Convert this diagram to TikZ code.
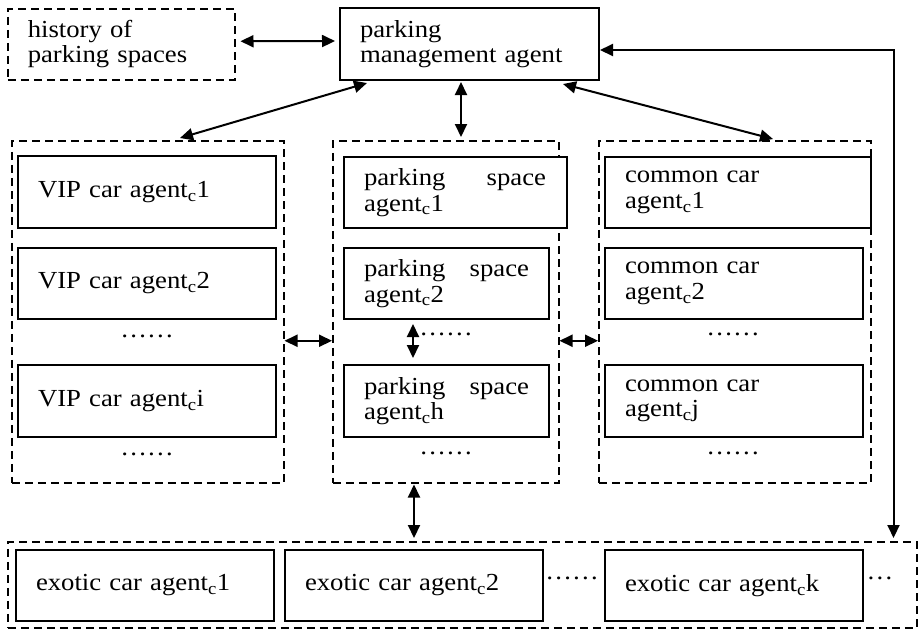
\documentclass[tikz,border=0pt]{standalone}
\usepackage{fontspec}
\setmainfont[FakeStretch=1.09]{Liberation Serif}
\usetikzlibrary{arrows.meta}
\begin{document}
\begin{tikzpicture}[x=1pt,y=-1pt,
  txt/.style={font=\fontsize{24.5pt}{25.5pt}\selectfont},
  agentbox/.style={draw, fill=white, line width=2pt, anchor=north west, inner sep=0pt, align=left, txt},
  group/.style={draw, dash pattern=on 8pt off 5pt, line width=1.5pt, anchor=north west, inner sep=0pt},
  dbl/.style={line width=2pt, {Triangle[length=13pt,width=12pt]}-{Triangle[length=13pt,width=12pt]}},
  dotrow/.style={txt, anchor=base, inner sep=0pt}]
\useasboundingbox (0,0) rectangle (920,630);

% top row
\node[group, txt, align=left, text width=187pt, minimum width=227pt, minimum height=71pt] (hist) at (7,8) {history of\\parking spaces};
\node[agentbox, text width=219pt, minimum width=259pt, minimum height=72pt] (pma) at (339,7) {parking\\management agent};

% containers
\node[group, minimum width=272pt, minimum height=342pt] (vipc) at (11,140) {};
\node[group, minimum width=226pt, minimum height=342pt] (psc) at (332,140) {};
\node[group, minimum width=272pt, minimum height=342pt] (ccc) at (598,140) {};
\node[group, minimum width=909pt, minimum height=86pt] (exo) at (7,541) {};

% VIP column
\node[agentbox, minimum width=258pt, minimum height=72pt, text width=218pt] (vip1) at (17,155) {VIP car agent\textsubscript{c}1};
\node[agentbox, minimum width=258pt, minimum height=71pt, text width=218pt] (vip2) at (17,247) {VIP car agent\textsubscript{c}2};
\node[agentbox, minimum width=258pt, minimum height=72pt, text width=218pt] (vipi) at (17,364) {VIP car agent\textsubscript{c}i};
\node[dotrow] (vd1) at (147,337) {……};
\node[dotrow] (vd2) at (147,455) {……};

% parking space column
\node[agentbox, minimum width=223pt, minimum height=71pt, text width=183pt] (ps1) at (343,156) {\hbox to 182pt{parking\hfill space}\\agent\textsubscript{c}1};
\node[agentbox, minimum width=205pt, minimum height=71pt, text width=165pt] (ps2) at (343,247) {\hbox to 165pt{parking\hfill space}\\agent\textsubscript{c}2};
\node[agentbox, minimum width=205pt, minimum height=72pt, text width=165pt] (psh) at (343,364) {\hbox to 165pt{parking\hfill space}\\agent\textsubscript{c}h};
\node[dotrow] (pd1) at (446,335) {……};
\node[dotrow] (pd2) at (446,454) {……};

% common car column
\node[agentbox, minimum width=266pt, minimum height=71pt, text width=226pt] (cc1) at (604,156) {common car\\agent\textsubscript{c}1};
\node[agentbox, minimum width=258pt, minimum height=71pt, text width=218pt] (cc2) at (604,247) {common car\\agent\textsubscript{c}2};
\node[agentbox, minimum width=258pt, minimum height=72pt, text width=218pt] (ccj) at (604,364) {common car\\agent\textsubscript{c}j};
\node[dotrow] (cd1) at (733,335) {……};
\node[dotrow] (cd2) at (733,454) {……};

% exotic row
\node[agentbox, minimum width=258pt, minimum height=71pt, text width=218pt] (ex1) at (15,549) {exotic car agent\textsubscript{c}1};
\node[agentbox, minimum width=258pt, minimum height=71pt, text width=218pt] (ex2) at (284,549) {exotic car agent\textsubscript{c}2};
\node[agentbox, minimum width=258pt, minimum height=71pt, text width=218pt] (exk) at (604,549) {exotic car agent\textsubscript{c}k};
\node[dotrow] (ed1) at (572,579) {……};
\node[dotrow] (ed2) at (880,579) {…};

% connectors
\draw[dbl] ([xshift=5pt,yshift=3pt]hist.east) -- ([xshift=-4pt,yshift=3pt]pma.west);
\draw[dbl] ([xshift=28pt,yshift=-2pt]pma.south west) -- ([xshift=169pt,yshift=2pt]vipc.north west);
\draw[dbl] ([xshift=122pt,yshift=-1pt]pma.south west) -- ([xshift=129pt,yshift=3pt]psc.north west);
\draw[dbl] ([xshift=224pt,yshift=-3pt]pma.south west) -- ([xshift=175pt,yshift=1pt]ccc.north west);
\draw[dbl] ([yshift=-6pt]pma.east) -| ([xshift=-24pt,yshift=3pt]exo.north east);
\draw[dbl] ([yshift=-29pt]vipc.east) -- ([yshift=-29pt]psc.west);
\draw[dbl] ([yshift=-29pt]psc.east) -- ([yshift=-29pt]ccc.west);
\draw[dbl] ([xshift=70pt,yshift=-4pt]ps2.south west) -- ([xshift=70pt,yshift=6pt]psh.north west);
\draw[dbl] ([xshift=82pt,yshift=-1pt]psc.south west) -- ([xshift=407pt,yshift=3pt]exo.north west);
\end{tikzpicture}
\end{document}
